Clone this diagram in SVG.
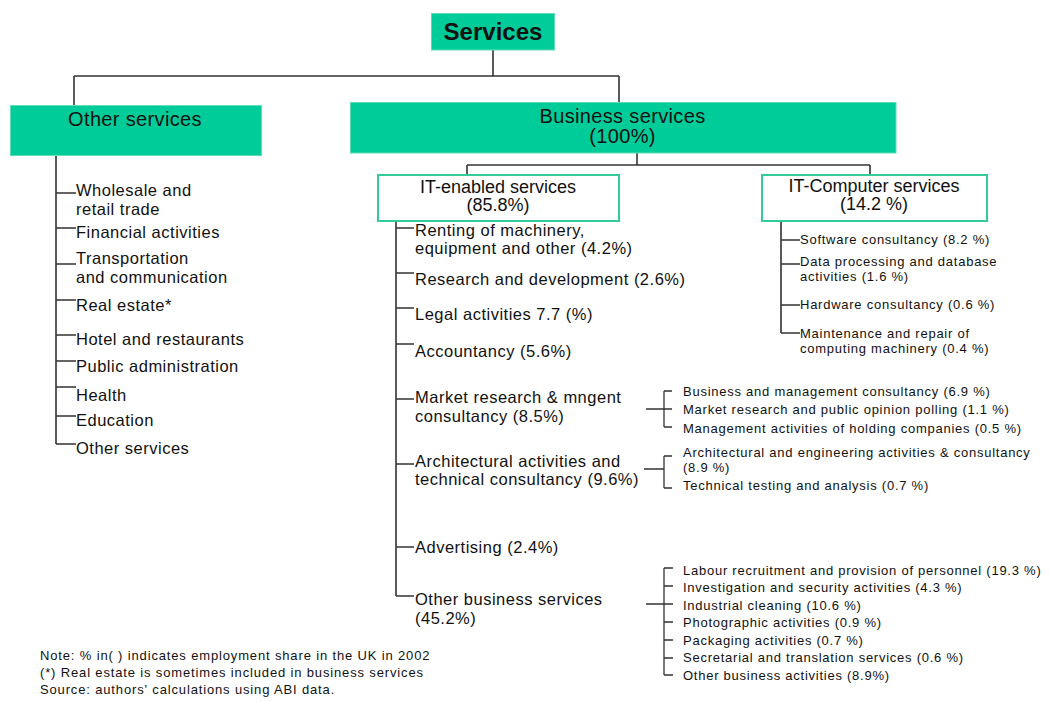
<svg xmlns="http://www.w3.org/2000/svg" width="1050" height="702" viewBox="0 0 1050 702">
<style>
text{font-family:"Liberation Sans",Arial,sans-serif;fill:#111}
.title{font-size:24px;font-weight:bold;text-anchor:middle}
.head{font-size:20px;letter-spacing:0.35px;text-anchor:middle}
.sub{font-size:18px;text-anchor:middle}
.lg{font-size:16.5px;letter-spacing:0.5px}
.sm{font-size:13px;letter-spacing:0.75px}
.note{font-size:13px;letter-spacing:0.85px}
.green{fill:#00CC99;stroke:#5fdcb8;stroke-width:1}
.outline{fill:#fff;stroke:#33CC99;stroke-width:2}
.conn path{fill:none;stroke:#333;stroke-width:1.6}
.conn .thin{stroke-width:1.3}
</style>
<rect width="1050" height="702" fill="#fff"/>
<g class="conn" id="connectors">
<path d="M493,50V76M74,76H619M74,76V105M619,76V102.5"/>
<path d="M637,153V165M467,165H870M467,165V175M870,165V175"/>
<path d="M56,156V444M56,193H76M56,228H76M56,264H76M56,300H76M56,335H76M56,361H76M56,387H76M56,416H76M56,444H76"/>
<path d="M396,221V596M396,228H414M396,273H414M396,308H414M396,344H414M396,399H414M396,464H414M396,547H414M396,596H414"/>
<path d="M781,221V333M781,240H800M781,264H800M781,305H800M781,333H800"/>
<path class="thin" d="M646,409H672M664,391V427M664,391H672M664,427H672"/>
<path class="thin" d="M644,469H664M664,456V488M664,456H672M664,488H672"/>
<path class="thin" d="M646,604H673M664,568V675M664,568H673M664,586H673M664,622H673M664,640H673M664,658H673M664,675H673"/>
</g>
<g id="services">
<rect class="green" x="431.5" y="13.5" width="123" height="36.5"/>
<text class="title" x="493" y="40">Services</text>
</g>
<g id="other-services">
<rect class="green" x="10.5" y="105.5" width="251" height="50"/>
<text class="head" x="135" y="126">Other services</text>
</g>
<g id="other-services-list">
<text class="lg" x="76" y="196">Wholesale and</text>
<text class="lg" x="76" y="215">retail trade</text>
<text class="lg" x="76" y="238">Financial activities</text>
<text class="lg" x="76" y="264">Transportation</text>
<text class="lg" x="76" y="283">and communication</text>
<text class="lg" x="76" y="311">Real estate*</text>
<text class="lg" x="76" y="345">Hotel and restaurants</text>
<text class="lg" x="76" y="372">Public administration</text>
<text class="lg" x="76" y="401">Health</text>
<text class="lg" x="76" y="426">Education</text>
<text class="lg" x="76" y="454">Other services</text>
</g>
<g id="business-services">
<rect class="green" x="350.5" y="102.5" width="545.5" height="50.5"/>
<text class="head" x="622.5" y="123">Business services</text>
<text class="head" x="622.5" y="143">(100%)</text>
</g>
<g id="it-enabled">
<rect class="outline" x="378" y="175" width="241" height="46"/>
<text class="sub" x="498" y="193">IT-enabled services</text>
<text class="sub" x="498" y="211">(85.8%)</text>
</g>
<g id="it-enabled-list">
<text class="lg" x="415" y="236">Renting of machinery,</text>
<text class="lg" x="415" y="254">equipment and other (4.2%)</text>
<text class="lg" x="415" y="285">Research and development (2.6%)</text>
<text class="lg" x="415" y="320">Legal activities 7.7 (%)</text>
<text class="lg" x="415" y="357">Accountancy (5.6%)</text>
<text class="lg" x="415" y="403">Market research &amp; mngent</text>
<text class="lg" x="415" y="422">consultancy (8.5%)</text>
<text class="lg" x="415" y="467">Architectural activities and</text>
<text class="lg" x="415" y="485">technical consultancy (9.6%)</text>
<text class="lg" x="415" y="553">Advertising (2.4%)</text>
<text class="lg" x="415" y="605">Other business services</text>
<text class="lg" x="415" y="624">(45.2%)</text>
</g>
<g id="it-computer">
<rect class="outline" x="762" y="175" width="225" height="46"/>
<text class="sub" x="874" y="192">IT-Computer services</text>
<text class="sub" x="874" y="210">(14.2 %)</text>
</g>
<g id="it-computer-list">
<text class="sm" x="800" y="244">Software consultancy (8.2 %)</text>
<text class="sm" x="800" y="266">Data processing and database</text>
<text class="sm" x="800" y="281">activities  (1.6 %)</text>
<text class="sm" x="800" y="309">Hardware consultancy (0.6 %)</text>
<text class="sm" x="800" y="338">Maintenance and repair of</text>
<text class="sm" x="800" y="353">computing machinery (0.4 %)</text>
</g>
<g id="market-research-list">
<text class="sm" x="683" y="396">Business and management consultancy (6.9 %)</text>
<text class="sm" x="683" y="414">Market research and public opinion polling (1.1 %)</text>
<text class="sm" x="683" y="433">Management activities of holding companies (0.5 %)</text>
</g>
<g id="architectural-list">
<text class="sm" x="683" y="457">Architectural and engineering activities &amp; consultancy</text>
<text class="sm" x="683" y="472">(8.9 %)</text>
<text class="sm" x="683" y="490">Technical testing and analysis (0.7 %)</text>
</g>
<g id="other-business-list">
<text class="sm" x="683" y="575">Labour recruitment and provision of personnel (19.3 %)</text>
<text class="sm" x="683" y="592">Investigation and security activities (4.3 %)</text>
<text class="sm" x="683" y="610">Industrial cleaning (10.6 %)</text>
<text class="sm" x="683" y="627">Photographic activities (0.9 %)</text>
<text class="sm" x="683" y="645">Packaging activities (0.7 %)</text>
<text class="sm" x="683" y="662">Secretarial and translation services (0.6 %)</text>
<text class="sm" x="683" y="680">Other business activities (8.9%)</text>
</g>
<g id="notes">
<text class="note" x="40" y="660">Note: % in( ) indicates employment share in the UK in 2002</text>
<text class="note" x="40" y="677">(*) Real estate is sometimes included in business services</text>
<text class="note" x="40" y="694">Source: authors' calculations using ABI data.</text>
</g>
</svg>
